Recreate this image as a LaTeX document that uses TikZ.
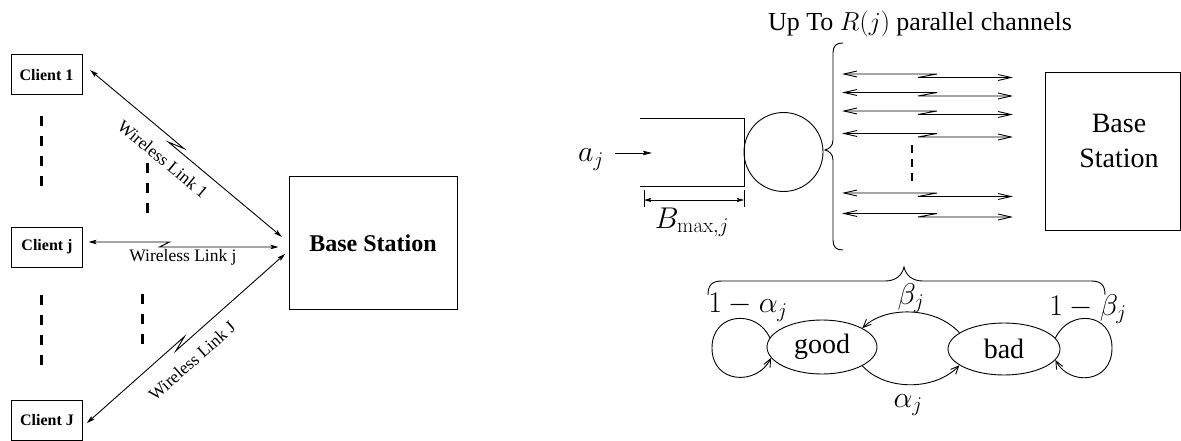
\RequirePackage{fix-cm}
\documentclass[tikz,border=0pt]{standalone}
\usepackage[no-math]{fontspec}
\setmainfont{Liberation Serif}
\usetikzlibrary{arrows.meta,calc,shapes.geometric}

\tikzset{
  box/.style={draw, line width=1pt, inner sep=0pt},
  client/.style={box, minimum width=71pt, minimum height=40pt, font=\fontsize{16}{18}\selectfont\bfseries},
  link/.style={line width=0.9pt, {Stealth[length=8pt,width=4.5pt,inset=1.5pt]}-{Stealth[length=8pt,width=4.5pt,inset=1.5pt]}},
  arr/.style={line width=0.9pt, -{Stealth[length=9pt,width=4.5pt,inset=1.5pt]}},
  dimarr/.style={line width=0.9pt, {Stealth[length=7pt,width=4pt,inset=1pt]}-{Stealth[length=7pt,width=4pt,inset=1pt]}},
  chan/.style={line width=0.9pt, {Straight Barb[length=13pt,width=6pt]}-{Straight Barb[length=13pt,width=6pt]}},
  elide/.style={line width=3pt, dash pattern=on 10pt off 10pt},
  elidesmall/.style={line width=2.5pt, dash pattern=on 8pt off 6pt},
  mstate/.style={draw, ellipse, line width=0.9pt, inner sep=0pt, font=\fontsize{28}{32}\selectfont},
  trans/.style={line width=0.9pt, -{Straight Barb[length=8pt,width=7pt]}},
  lbl/.style={font=\fontsize{17.5}{20}\selectfont, inner sep=0pt},
  big/.style={font=\fontsize{28}{34}\selectfont, inner sep=0pt},
  mathlbl/.style={font=\fontsize{30}{36}\selectfont, inner sep=0pt},
  plain/.style={line width=0.9pt},
}

% lightning-broken double arrow: style, start, end, fraction, half overlap, half offset
\newcommand{\zigline}[6]{%
  \draw[#1] ($(#2)!#6!90:(#3)$)
    -- ($(#2)!#4!(#3)!#5!(#3)!#6!90:(#3)$)
    -- ($(#2)!#4!(#3)!-#5!(#3)!#6!-90:(#3)$)
    -- ($(#3)!#6!90:(#2)$);}

\begin{document}
\begin{tikzpicture}[x=1pt,y=-1pt]
\useasboundingbox (0,0) rectangle (1181,441);

% ---------------- left panel ----------------
\node[client] (c1) at (46.5,75) {Client 1};
\node[client] (cj) at (47,247) {Client j};
\node[client] (cJ) at (47,420) {Client J};
\node[box, minimum width=168pt, minimum height=132pt,
      font=\fontsize{24}{28}\selectfont\bfseries] (bs) at (373,243) {Base Station};

\coordinate (l1a) at ($(c1.east)+(6,-3)$);
\coordinate (l1b) at ($(bs.west)+(-5,-8)$);
\coordinate (lja) at ($(cj.east)+(5.5,-2.5)$);
\coordinate (ljb) at ($(bs.west)+(-10,1.5)$);
\coordinate (lJa) at ($(cJ.east)+(5.5,5)$);
\coordinate (lJb) at ($(bs.west)+(-5,9)$);

\zigline{link}{l1a}{l1b}{0.45}{8pt}{2.5pt}
\zigline{link}{lja}{ljb}{0.4}{5pt}{2.5pt}
\zigline{link}{lJa}{lJb}{0.47}{8pt}{2.5pt}

\node[lbl, rotate=-39.7] (w1) at (163,159) {Wireless Link 1};
\node[lbl] (wj) at (183,257) {Wireless Link j};
\node[lbl, rotate=41.4] (wJ) at (192,361) {Wireless Link J};

\draw[elide] (41,116) -- (41,186);
\draw[elide] (147,163) -- (147,213);
\draw[elide] (41,295) -- (41,365);
\draw[elide] (142,294) -- (142,344);

% ---------------- right panel ----------------
\node[font=\fontsize{26}{30}\selectfont, inner sep=0pt] (up) at (920,24) {Up To $R(j)$ parallel channels};

% queue and server
\node[draw, circle, minimum size=79pt, inner sep=0pt, line width=0.9pt] (srv) at (783.5,152) {};
\coordinate (qtl) at (640,118);
\coordinate (qbl) at (640,186);
\draw[plain] (qtl) -- (744,118) -- (744,186) -- (qbl);

\node[mathlbl, anchor=base] (aj) at (591,162) {$a_j$};
\coordinate (ajin) at (652,153);
\coordinate (ajout) at (615,153);
\draw[arr] (ajout) -- (ajin);

\coordinate (bl) at (644,200);
\coordinate (br) at (744,200);
\draw[plain] (644,190) -- (644,207);
\draw[plain] (744,190) -- (744,207);
\draw[dimarr] (bl) -- (br);
\node[mathlbl, anchor=base] (bmax) at (692,228) {$B_{\max,j}$};

% vertical brace
\draw[plain] (843,43) .. controls (836,43) and (833,46) .. (833,53)
  -- (833,140) .. controls (833,146) and (829,149) .. (825,150)
  .. controls (829,151) and (833,154) .. (833,160)
  -- (833,240) .. controls (833,247) and (836,250) .. (843,250);

% channels
\foreach \y [count=\i] in {75.75,94.25,112.75,135.25,194.75,215.25} {
  \coordinate (chL\i) at (842,\y);
  \coordinate (chR\i) at (1013,\y);
  \zigline{chan}{chL\i}{chR\i}{0.5}{9.5pt}{1.75pt}
}
\draw[elidesmall] (912,145) -- (912,182);

% base station (right)
\node[box, minimum width=135pt, minimum height=157pt] (bs2) at (1112.5,151.5) {};
\node[font=\fontsize{28}{35}\selectfont, inner sep=0pt, align=center] (bs2t) at (1119,141) {Base\\Station};

% horizontal brace
\draw[plain] (708,295) .. controls (708,285) and (712,281) .. (722,281)
  -- (885,281) .. controls (895,281) and (902,276) .. (904,267)
  .. controls (906,276) and (913,281) .. (923,281)
  -- (1091,281) .. controls (1101,281) and (1105,285) .. (1105,295);

% Markov chain
\node[mstate, minimum width=110pt, minimum height=54pt] (good) at (822,347) {good};
\node[mstate, minimum width=112pt, minimum height=52pt] (bad) at (1004,349) {bad};

\draw[trans] (good.170) .. controls (757,309) and (712,312) .. (712,348)
  .. controls (712,384) and (757,386) .. (good.192);
\draw[trans] (bad.12) .. controls (1069,309) and (1112,312) .. (1112,348)
  .. controls (1112,384) and (1069,386) .. (bad.-12);
\draw[trans] (bad.160) .. controls (935,306) and (885,306) .. (good.25);
\draw[trans] (good.335) .. controls (885,391) and (935,391) .. (bad.200);

\node[mathlbl, anchor=base] (lab1a) at (748,312.5) {$1-\alpha_j$};
\node[mathlbl, anchor=base] (labb) at (911,304) {$\beta_j$};
\node[mathlbl, anchor=base] (laba) at (908,407) {$\alpha_j$};
\node[mathlbl, anchor=base] (lab1b) at (1088,315) {$1-\beta_j$};
\end{tikzpicture}
\end{document}
